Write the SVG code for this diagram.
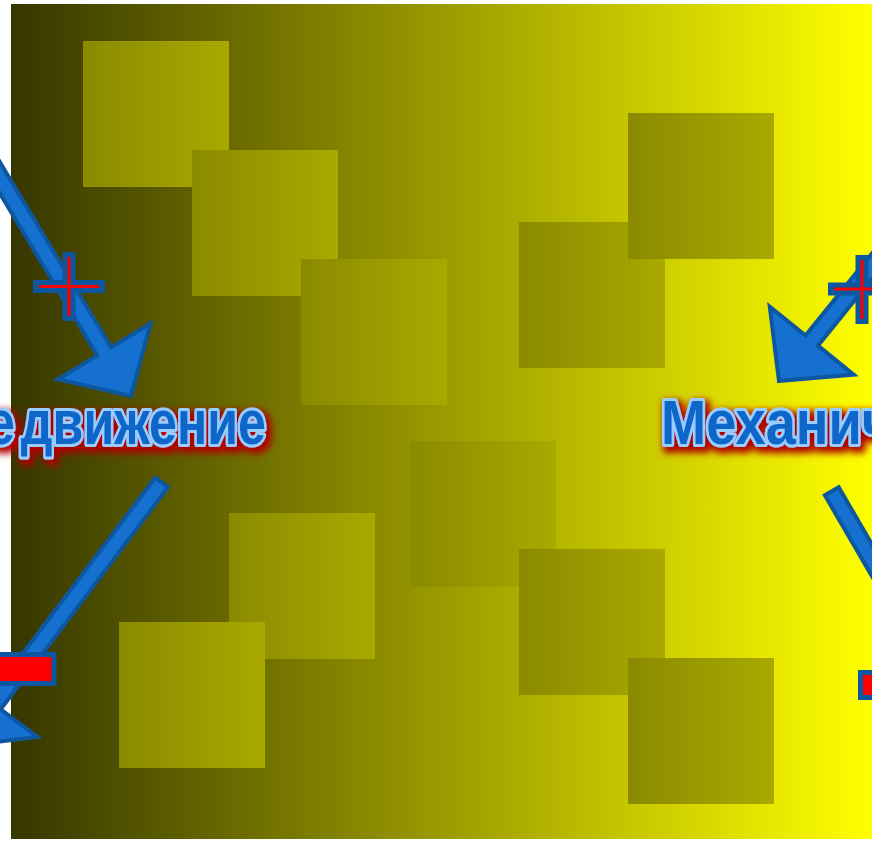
<svg xmlns="http://www.w3.org/2000/svg" width="872" height="842" viewBox="0 0 872 842">
  <defs>
    <linearGradient id="bg" x1="0" y1="0" x2="1" y2="0">
      <stop offset="0" stop-color="#363600"/>
      <stop offset="1" stop-color="#ffff00"/>
    </linearGradient>
    <linearGradient id="sq" x1="0" y1="0" x2="1" y2="0">
      <stop offset="0" stop-color="#8a8a00"/>
      <stop offset="1" stop-color="#a9a900"/>
    </linearGradient>
    <filter id="glow" x="-20%" y="-40%" width="140%" height="180%">
      <feMorphology in="SourceAlpha" operator="dilate" radius="1.5"/>
      <feGaussianBlur stdDeviation="3.5"/>
      <feOffset dx="3" dy="4" result="b"/>
      <feFlood flood-color="#b00000"/>
      <feComposite in2="b" operator="in"/>
      <feMerge>
        <feMergeNode/>
        <feMergeNode in="SourceGraphic"/>
      </feMerge>
    </filter>
    <polygon id="arrowShape" points="0,0 -52,-54 -52,-8 -352,-8 -352,8 -52,8 -52,54"/>
  </defs>
  <style>
    .sq { fill: url(#sq); }
    .arrow { fill: #1570d0; stroke: #0d57a0; stroke-width: 4; stroke-linejoin: miter; }
    .title { font-family: "Liberation Sans", Arial, sans-serif; font-weight: bold; font-size: 63px; fill: #0f66c8; stroke: #99ccff; stroke-width: 6; stroke-linejoin: round; paint-order: stroke; }
    .signOut { stroke: #0d57a0; stroke-width: 13; fill: none; }
    .signIn { stroke: #ff0000; stroke-width: 3; fill: none; }
    .minus { fill: #ff0000; stroke: #0d57a0; stroke-width: 5; }
  </style>

  <rect x="0" y="0" width="872" height="842" fill="#ffffff"/>
  <rect id="background" x="11" y="4" width="861" height="835" fill="url(#bg)"/>

  <g id="squares">
    <rect class="sq" x="83" y="41" width="146" height="146"/>
    <rect class="sq" x="192" y="150" width="146" height="146"/>
    <rect class="sq" x="301" y="259" width="146" height="146"/>
    <rect class="sq" x="410" y="441" width="146" height="146"/>
    <rect class="sq" x="519" y="222" width="146" height="146"/>
    <rect class="sq" x="628" y="113" width="146" height="146"/>
    <rect class="sq" x="229" y="513" width="146" height="146"/>
    <rect class="sq" x="119" y="622" width="146" height="146"/>
    <rect class="sq" x="519" y="549" width="146" height="146"/>
    <rect class="sq" x="628" y="658" width="146" height="146"/>
  </g>

  <g id="connectors">
    <use class="arrow" href="#arrowShape" transform="translate(131,396) rotate(59)"/>
    <use class="arrow" href="#arrowShape" transform="translate(779,381) rotate(129)"/>
    <polygon class="arrow" points="0,0 -52,-54 -52,-8 -330,-8 -330,8 -52,8 -52,54" transform="translate(-37,746) rotate(127)"/>
    <polygon class="arrow" points="0,0 -52,-54 -52,-8 -400,-8 -400,8 -52,8 -52,54" transform="translate(1033,837) rotate(59.8)"/>
  </g>

  <g id="plus-left">
    <path class="signOut" d="M33,286.5 H105 M69,252 V321"/>
    <path class="signIn" d="M39,286.5 H99 M69,257 V316"/>
  </g>
  <g id="plus-right">
    <path class="signOut" d="M828,289 H900 M862,255 V324"/>
    <path class="signIn" d="M834,289 H894 M862,260 V319"/>
  </g>

  <g id="minus-left">
    <rect class="minus" x="-8" y="654.5" width="62" height="29"/>
  </g>
  <g id="minus-right">
    <rect class="minus" x="860.5" y="672.5" width="60" height="25"/>
  </g>

  <g id="label-left" filter="url(#glow)">
    <text class="title" transform="translate(-13,444) scale(0.795,1)" word-spacing="-10">е движение</text>
  </g>
  <g id="label-right" filter="url(#glow)">
    <text class="title" transform="translate(661,444) scale(0.86,1)">Механич</text>
  </g>
</svg>
